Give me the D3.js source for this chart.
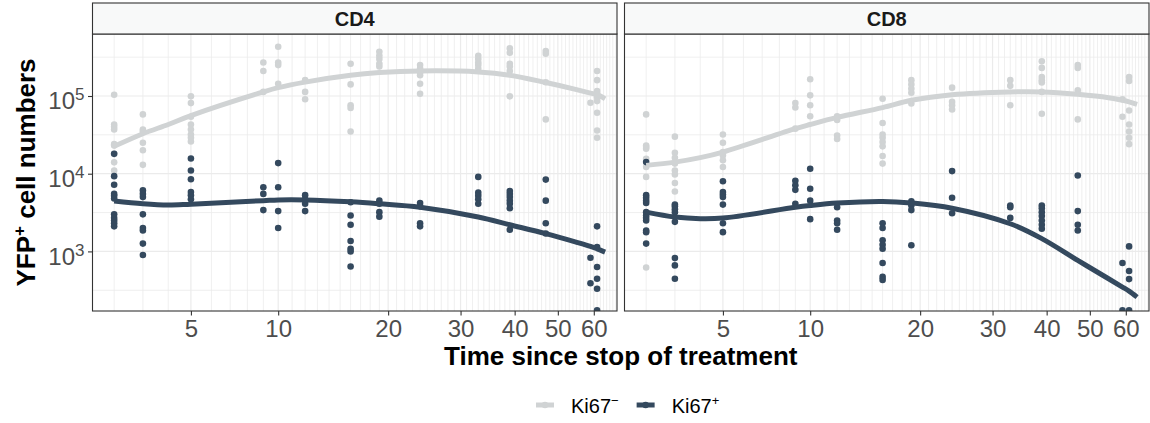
<!DOCTYPE html>
<html>
<head>
<meta charset="utf-8">
<script src="https://cdn.jsdelivr.net/npm/d3@7"></script>
<style>
  body { margin: 0; background: #ffffff; }
  svg { display: block; }
  text { font-family: "Liberation Sans", Arial, Helvetica, sans-serif; }
</style>
</head>
<body>
<svg id="chart" width="1150" height="423"></svg>
<script>
// Sampling times (time since stop of treatment)
const times = [2, 3, 5, 9, 10, 12, 16, 19, 24, 33, 39, 47, 59, 61];

// YFP+ cell numbers per mouse, one inner list per sampling time
const cd4Ki67Neg = [
  [1.04e5, 4.3e4, 4.0e4, 3.7e4, 2.4e4, 2.3e4, 1.8e4, 1.4e4, 1.1e4],
  [5.8e4, 3.7e4, 3.5e4, 2.5e4, 2.0e4, 1.3e4],
  [9.9e4, 8.1e4, 5.4e4, 4.3e4, 3.7e4, 3.2e4, 2.9e4, 2.6e4],
  [2.7e5, 2.1e5, 1.13e5],
  [4.3e5, 2.7e5, 2.5e5, 1.44e5],
  [1.6e5, 1.13e5, 9.1e4],
  [2.6e5, 1.41e5, 7.6e4, 7.0e4, 3.5e4],
  [3.7e5, 3.3e5, 3.0e5, 2.6e5, 2.4e5],
  [2.5e5, 2.25e5, 2.0e5, 1.85e5, 1.44e5, 1.07e5],
  [3.3e5, 3.0e5, 2.7e5, 2.5e5, 2.25e5],
  [4.1e5, 3.6e5, 2.6e5, 2.4e5, 2.1e5, 9.9e4],
  [3.8e5, 3.5e5, 1.5e5, 5.0e4],
  [8.2e4],
  [2.1e5, 1.6e5, 1.16e5, 1.07e5, 9.7e4, 8.6e4, 6.1e4, 3.6e4, 2.9e4]
];
const cd4Ki67Pos = [
  [1.8e4, 9.3e3, 7.2e3, 5.5e3, 5.2e3, 4.8e3, 3.0e3, 2.7e3, 2.5e3, 2.3e3, 2.1e3],
  [6.1e3, 5.5e3, 5.0e3, 3.0e3, 2.0e3, 1.86e3, 1.26e3, 900],
  [1.57e4, 1.1e4, 8.5e3, 5.8e3, 5.3e3, 4.7e3],
  [6.7e3, 5.5e3, 3.4e3],
  [1.37e4, 6.7e3, 3.3e3, 2.0e3],
  [5.3e3, 4.7e3, 4.1e3, 3.3e3],
  [4.3e3, 2.9e3, 2.2e3, 1.36e3, 1.08e3, 1.0e3, 640],
  [4.5e3, 4.1e3, 3.2e3, 2.8e3],
  [4.2e3, 3.8e3, 2.3e3, 2.1e3],
  [9.1e3, 5.7e3, 5.2e3, 4.7e3, 4.1e3],
  [6.0e3, 5.5e3, 5.0e3, 4.5e3, 4.1e3, 3.6e3, 1.9e3],
  [8.4e3, 4.5e3, 2.3e3, 1.7e3],
  [830, 390],
  [2.1e3, 1.14e3, 630, 445, 330, 174]
];
const cd8Ki67Neg = [
  [5.8e4, 2.3e4, 2.2e4, 2.1e4, 1.56e4, 1.22e4, 9.1e3, 620],
  [3.0e4, 1.86e4, 1.6e4, 1.35e4, 1.1e4, 9.8e3, 7.6e3, 5.9e3],
  [3.2e4, 2.5e4, 1.9e4, 1.72e4, 1.49e4, 1.22e4],
  [8.1e4, 7.1e4, 3.8e4],
  [1.64e5, 1.02e5, 7.6e4, 5.5e4],
  [5.5e4, 4.9e4, 3.1e4, 2.8e4],
  [9.2e4, 4.5e4, 3.2e4, 2.9e4, 2.56e4, 2.25e4, 1.69e4, 1.35e4],
  [1.6e5, 1.41e5, 1.24e5, 1.1e5, 8.0e4],
  [1.28e5, 8.4e4, 7.6e4, 6.7e4],
  [1.6e5, 1.35e5, 7.6e4],
  [2.8e5, 2.3e5, 1.76e5, 1.6e5, 1.49e5, 1.13e5, 5.9e4],
  [2.5e5, 2.3e5, 1.18e5, 5.0e4],
  [9.1e4, 5.4e4],
  [1.76e5, 1.56e5, 6.5e4, 4.3e4, 3.5e4, 2.9e4, 2.4e4]
];
const cd8Ki67Pos = [
  [1.41e4, 5.3e3, 4.9e3, 4.5e3, 4.2e3, 3.2e3, 2.9e3, 2.7e3, 2.5e3, 1.86e3, 1.77e3, 1.26e3],
  [4.0e3, 3.8e3, 3.5e3, 3.2e3, 2.4e3, 820, 660, 445],
  [8.0e3, 5.8e3, 5.4e3, 5.0e3, 4.0e3, 2.3e3, 1.77e3],
  [8.1e3, 7.1e3, 6.2e3, 4.1e3],
  [1.16e4, 6.4e3, 4.5e3, 2.6e3],
  [3.7e3, 2.5e3, 2.3e3, 1.9e3],
  [2.3e3, 2.0e3, 1.39e3, 1.22e3, 1.08e3, 710, 470, 430],
  [4.4e3, 3.9e3, 3.4e3, 1.2e3],
  [1.08e4, 4.9e3, 3.1e3],
  [3.9e3, 3.7e3, 2.7e3],
  [3.9e3, 3.6e3, 3.2e3, 2.85e3, 2.5e3, 2.2e3, 1.96e3],
  [9.5e3, 3.3e3, 2.2e3, 1.86e3],
  [710, 174],
  [1.16e3, 560, 440, 174]
];

// Smoothed trends, evaluated at these times
const fitTimes = [2, 3, 4, 5, 9, 10, 12, 16, 19, 24, 33, 39, 47, 55, 59, 61, 63.5];
const cd4NegFit = [2.25e4, 3.27e4, 4.3e4, 5.6e4, 1.13e5, 1.28e5, 1.51e5, 1.85e5, 2.0e5, 2.1e5, 2.04e5, 1.85e5, 1.49e5, 1.21e5, 1.09e5, 1.04e5, 9.2e4];
const cd4PosFit = [4.45e3, 4.1e3, 3.95e3, 4.05e3, 4.5e3, 4.6e3, 4.6e3, 4.35e3, 4.1e3, 3.7e3, 2.77e3, 2.2e3, 1.69e3, 1.31e3, 1.16e3, 1.08e3, 980];
const cd8NegFit = [1.28e4, 1.41e4, 1.61e4, 1.9e4, 3.8e4, 4.3e4, 5.3e4, 7.1e4, 8.8e4, 1.04e5, 1.13e5, 1.13e5, 1.05e5, 9.5e4, 8.8e4, 8.4e4, 7.8e4];
const cd8PosFit = [3.2e3, 2.77e3, 2.64e3, 2.69e3, 3.7e3, 3.9e3, 4.2e3, 4.4e3, 4.2e3, 3.6e3, 2.27e3, 1.46e3, 766, 445, 348, 308, 258];

const panelNames = ["CD4", "CD8"];
const xTicks = [5, 10, 20, 30, 40, 50, 60];
const yTicks = [1e3, 1e4, 1e5];
const yMinorGrid = [Math.pow(10, 2.5), Math.pow(10, 3.5), Math.pow(10, 4.5), Math.pow(10, 5.5)];
const legendLabels = [{ base: "Ki67", sup: "\u2212" }, { base: "Ki67", sup: "+" }];

// ---- layout & styling ----
const colNeg = "#d0d3d4";
const colPos = "#34495e";
const panelLefts = [92.5, 624.5];
const panelW = 524.5;
const panelTop = 34;
const panelH = 277;
const stripTop = 3;
const timeShift = 5;               // time axis is logarithmic in (t + 5)
const xDomain = [1.33, 67.4];
const yDomain = [171, 6.28e5];

const svg = d3.select("#chart");
svg.append("rect").attr("width", 1150).attr("height", 423).attr("fill", "#ffffff");

const xs = d3.scaleLog()
  .domain([xDomain[0] + timeShift, xDomain[1] + timeShift])
  .range([0, panelW]);
const xt = t => xs(t + timeShift);
const y = d3.scaleLog().domain(yDomain).range([panelH, 0]);

const panels = [
  { name: panelNames[0], neg: cd4Ki67Neg, pos: cd4Ki67Pos, negFit: cd4NegFit, posFit: cd4PosFit },
  { name: panelNames[1], neg: cd8Ki67Neg, pos: cd8Ki67Pos, negFit: cd8NegFit, posFit: cd8PosFit }
];

const flatten = cols => times.flatMap((t, i) => cols[i].map(v => ({ t, v })));
const fitLine = d3.line().x(d => xt(d.t)).y(d => y(d.v)).curve(d3.curveCatmullRom.alpha(0.5));

const minorX = d3.range(1, 70).filter(t => !xTicks.includes(t) && t >= xDomain[0] && t <= xDomain[1]);

panels.forEach((p, pi) => {
  const g = svg.append("g").attr("transform", `translate(${panelLefts[pi]},${panelTop})`);
  const clipId = "clip" + pi;
  g.append("clipPath").attr("id", clipId)
    .append("rect").attr("width", panelW).attr("height", panelH);

  g.append("rect").attr("width", panelW).attr("height", panelH).attr("fill", "#ffffff");

  // grid
  const grid = g.append("g");
  grid.selectAll(".vminor").data(minorX).join("line")
    .attr("x1", d => xt(d)).attr("x2", d => xt(d))
    .attr("y1", 0).attr("y2", panelH)
    .attr("stroke", "#ebebeb").attr("stroke-width", 0.8);
  grid.selectAll(".hminor").data(yMinorGrid).join("line")
    .attr("x1", 0).attr("x2", panelW)
    .attr("y1", d => y(d)).attr("y2", d => y(d))
    .attr("stroke", "#ebebeb").attr("stroke-width", 0.8);
  grid.selectAll(".vmajor").data(xTicks).join("line")
    .attr("x1", d => xt(d)).attr("x2", d => xt(d))
    .attr("y1", 0).attr("y2", panelH)
    .attr("stroke", "#ebebeb").attr("stroke-width", 1.2);
  grid.selectAll(".hmajor").data(yTicks).join("line")
    .attr("x1", 0).attr("x2", panelW)
    .attr("y1", d => y(d)).attr("y2", d => y(d))
    .attr("stroke", "#ebebeb").attr("stroke-width", 1.2);

  const plot = g.append("g").attr("clip-path", `url(#${clipId})`);

  // points
  plot.append("g").selectAll("circle").data(flatten(p.neg)).join("circle")
    .attr("cx", d => xt(d.t)).attr("cy", d => y(d.v)).attr("r", 3.3)
    .attr("fill", colNeg);
  plot.append("g").selectAll("circle").data(flatten(p.pos)).join("circle")
    .attr("cx", d => xt(d.t)).attr("cy", d => y(d.v)).attr("r", 3.3)
    .attr("fill", colPos);

  // smoothed trends
  plot.append("path")
    .datum(fitTimes.map((t, i) => ({ t, v: p.negFit[i] })))
    .attr("d", fitLine).attr("fill", "none")
    .attr("stroke", colNeg).attr("stroke-width", 5);
  plot.append("path")
    .datum(fitTimes.map((t, i) => ({ t, v: p.posFit[i] })))
    .attr("d", fitLine).attr("fill", "none")
    .attr("stroke", colPos).attr("stroke-width", 5);

  // panel border
  g.append("rect").attr("width", panelW).attr("height", panelH)
    .attr("fill", "none").attr("stroke", "#333333").attr("stroke-width", 1.1);

  // strip
  g.append("rect").attr("y", stripTop - panelTop).attr("width", panelW).attr("height", panelTop - stripTop)
    .attr("fill", "#f8f9f9").attr("stroke", "#333333").attr("stroke-width", 1.1);
  g.append("text")
    .attr("x", panelW / 2).attr("y", (stripTop - panelTop) / 2 + 7)
    .attr("text-anchor", "middle")
    .attr("font-size", 20).attr("font-weight", "bold").attr("fill", "#1a1a1a")
    .text(p.name);

  // x axis
  const xAxis = d3.axisBottom(xs)
    .tickValues(xTicks.map(t => t + timeShift))
    .tickFormat(v => String(Math.round(v - timeShift)))
    .tickSize(4.5).tickPadding(4);
  const ax = g.append("g").attr("transform", `translate(0,${panelH})`).call(xAxis);
  ax.select(".domain").remove();
  ax.selectAll(".tick line").attr("stroke", "#333333").attr("stroke-width", 1.1);
  ax.selectAll(".tick text").attr("fill", "#4d4d4d").attr("font-size", 24)
    .attr("font-family", "Liberation Sans, Arial, sans-serif");

  // y axis on the first panel only
  if (pi === 0) {
    const yAxis = d3.axisLeft(y).tickValues(yTicks).tickFormat("").tickSize(4.5).tickPadding(3.5);
    const ay = g.append("g").call(yAxis);
    ay.select(".domain").remove();
    ay.selectAll(".tick line").attr("stroke", "#333333").attr("stroke-width", 1.1);
    ay.selectAll(".tick text").each(function (d) {
      const t = d3.select(this)
        .attr("fill", "#4d4d4d").attr("font-size", 24)
        .attr("font-family", "Liberation Sans, Arial, sans-serif")
        .attr("dy", "0.54em");
      t.append("tspan").text("10");
      t.append("tspan").attr("dy", -9).attr("font-size", 17).text(String(Math.round(Math.log10(d))));
    });
  }
});

// axis titles
svg.append("text")
  .attr("x", (panelLefts[0] + panelLefts[1] + panelW) / 2).attr("y", 365)
  .attr("text-anchor", "middle").attr("font-size", 26).attr("font-weight", "bold").attr("fill", "#000")
  .text("Time since stop of treatment");

const yTitle = svg.append("text")
  .attr("transform", `translate(34.5,${panelTop + panelH / 2}) rotate(-90)`)
  .attr("text-anchor", "middle").attr("font-size", 26).attr("font-weight", "bold").attr("fill", "#000");
yTitle.append("tspan").text("YFP");
yTitle.append("tspan").attr("dy", -10).attr("font-size", 17).text("+");
yTitle.append("tspan").attr("dy", 10).text(" cell numbers");

// legend
const legendY = 405;
let lx = 536;
[colNeg, colPos].forEach((c, i) => {
  const g = svg.append("g");
  g.append("line").attr("x1", lx).attr("x2", lx + 18)
    .attr("y1", legendY).attr("y2", legendY)
    .attr("stroke", c).attr("stroke-width", 5);
  g.append("circle").attr("cx", lx + 9).attr("cy", legendY).attr("r", 3.3).attr("fill", c);
  const txt = g.append("text").attr("x", lx + 35).attr("y", legendY + 8)
    .attr("font-size", 20).attr("fill", "#000");
  txt.append("tspan").text(legendLabels[i].base);
  txt.append("tspan").attr("dy", -8).attr("font-size", 13).text(legendLabels[i].sup);
  lx = lx + 35 + txt.node().getComputedTextLength() + 18;
});
</script>
</body>
</html>
